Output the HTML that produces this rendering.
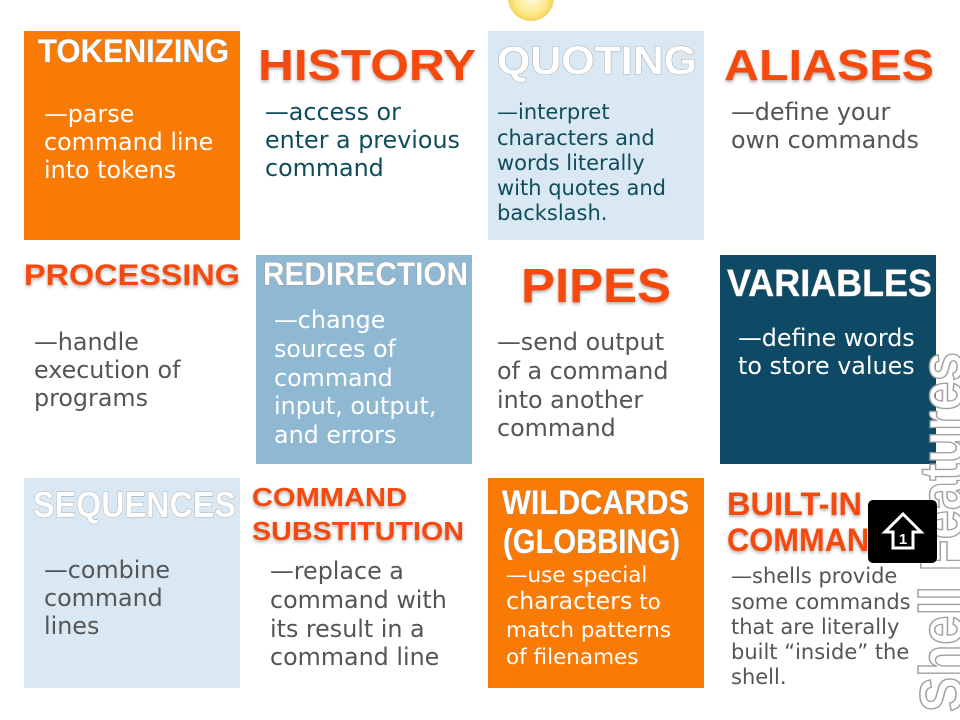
<!DOCTYPE html>
<html><head><meta charset="utf-8"><style>
html,body{margin:0;padding:0;background:#fff;}
svg{display:block;}
.t{font-family:"Liberation Sans",sans-serif;font-weight:bold;}
.o{fill:#f5480f;filter:url(#sh);}
.w{fill:#fff;stroke:#9a9a9a;stroke-width:0.8;paint-order:stroke;}
.b{font-family:"DejaVu Sans",sans-serif;font-size:23.8px;}
</style></head><body>
<svg width="960" height="720" viewBox="0 0 960 720" xmlns="http://www.w3.org/2000/svg">
<defs>
<filter id="sh" x="-10%" y="-20%" width="120%" height="160%"><feDropShadow dx="0" dy="2" stdDeviation="1.5" flood-color="#000" flood-opacity="0.3"/></filter>
<radialGradient id="sun" cx="50%" cy="50%" r="50%"><stop offset="0" stop-color="#fffbe0"/><stop offset="0.7" stop-color="#fde98a"/><stop offset="1" stop-color="#f3d35a"/></radialGradient>
</defs>
<rect width="960" height="720" fill="#fff"/>
<circle cx="531" cy="-2" r="23" fill="url(#sun)"/>
<rect x="24" y="31" width="216" height="209" fill="#f97a05"/>
<rect x="488" y="31" width="216" height="209" fill="#dae8f4"/>
<rect x="256" y="255" width="216" height="209" fill="#8fb8d3"/>
<rect x="720" y="255" width="216" height="209" fill="#0e4a66"/>
<rect x="24" y="478" width="216" height="210" fill="#dae8f4"/>
<rect x="488" y="478" width="216" height="210" fill="#f97a05"/>

<text class="t w" x="38" y="62" font-size="32" textLength="191" lengthAdjust="spacingAndGlyphs">TOKENIZING</text>
<text class="t o" x="258" y="80" font-size="44" textLength="218" lengthAdjust="spacingAndGlyphs">HISTORY</text>
<text class="t w" x="497" y="74" font-size="40" textLength="200" lengthAdjust="spacingAndGlyphs">QUOTING</text>
<text class="t o" x="724" y="80" font-size="44" textLength="210" lengthAdjust="spacingAndGlyphs">ALIASES</text>
<text class="t o" x="24" y="285" font-size="30" textLength="216" lengthAdjust="spacingAndGlyphs">PROCESSING</text>
<text class="t w" x="263" y="285" font-size="32" textLength="205" lengthAdjust="spacingAndGlyphs">REDIRECTION</text>
<text class="t o" x="521" y="302" font-size="48" textLength="150" lengthAdjust="spacingAndGlyphs">PIPES</text>
<text class="t w" x="727" y="296" font-size="38" textLength="205" lengthAdjust="spacingAndGlyphs">VARIABLES</text>
<text class="t w" x="33" y="517" font-size="36" textLength="203" lengthAdjust="spacingAndGlyphs">SEQUENCES</text>
<text class="t o" x="252" y="506" font-size="26" textLength="155" lengthAdjust="spacingAndGlyphs">COMMAND</text>
<text class="t o" x="252" y="540" font-size="26" textLength="212" lengthAdjust="spacingAndGlyphs">SUBSTITUTION</text>
<text class="t w" x="502" y="514" font-size="34" textLength="187" lengthAdjust="spacingAndGlyphs">WILDCARDS</text>
<text class="t w" x="503" y="553" font-size="34" textLength="177" lengthAdjust="spacingAndGlyphs">(GLOBBING)</text>
<text class="t o" x="727" y="515" font-size="32" textLength="135" lengthAdjust="spacingAndGlyphs">BUILT-IN</text>
<text class="t o" x="727" y="551" font-size="32" textLength="185" lengthAdjust="spacingAndGlyphs">COMMANDS</text>

<g class="b" fill="#fff"><text x="44" y="122">—parse</text><text x="44" y="150">command line</text><text x="44" y="178">into tokens</text></g>
<g class="b" fill="#0f4c5c"><text x="265" y="120">—access or</text><text x="265" y="148">enter a previous</text><text x="265" y="176">command</text></g>
<g class="b" fill="#0f4c5c" style="font-size:21px"><text x="497" y="119">—interpret</text><text x="497" y="145">characters and</text><text x="497" y="170">words literally</text><text x="497" y="195">with quotes and</text><text x="497" y="220">backslash.</text></g>
<g class="b" fill="#555"><text x="731" y="120">—define your</text><text x="731" y="148">own commands</text></g>
<g class="b" fill="#555"><text x="34" y="350">—handle</text><text x="34" y="378">execution of</text><text x="34" y="406">programs</text></g>
<g class="b" fill="#fff"><text x="274" y="328">—change</text><text x="274" y="357">sources of</text><text x="274" y="386">command</text><text x="274" y="414">input, output,</text><text x="274" y="443">and errors</text></g>
<g class="b" fill="#555"><text x="497" y="350">—send output</text><text x="497" y="379">of a command</text><text x="497" y="408">into another</text><text x="497" y="436">command</text></g>
<g class="b" fill="#fff"><text x="738" y="346">—define words</text><text x="738" y="374">to store values</text></g>
<g class="b" fill="#555"><text x="44" y="578">—combine</text><text x="44" y="606">command</text><text x="44" y="634">lines</text></g>
<g class="b" fill="#555"><text x="270" y="579">—replace a</text><text x="270" y="608">command with</text><text x="270" y="637">its result in a</text><text x="270" y="665">command line</text></g>
<g class="b" fill="#fff"><text x="506" y="582" style="font-size:21.5px">—use special</text><text x="506" y="609">characters<tspan style="font-size:21.5px"> to</tspan></text><text x="506" y="637" style="font-size:21.5px">match patterns</text><text x="506" y="664" style="font-size:21.5px">of filenames</text></g>
<g class="b" fill="#555" style="font-size:21px"><text x="731" y="583">—shells provide</text><text x="731" y="609">some commands</text><text x="731" y="634">that are literally</text><text x="731" y="659">built  “inside” the</text><text x="731" y="684">shell.</text></g>

<text transform="translate(962,712) rotate(-90)" font-family="Liberation Sans, sans-serif" font-weight="bold" font-size="60" fill="#fff" stroke="#a0a0a0" stroke-width="1.5" textLength="360" lengthAdjust="spacingAndGlyphs">Shell Features</text>

<rect x="868" y="500" width="69" height="63" rx="5" fill="#000"/>
<path d="M903 514 L921 532 L913 532 L913 548 L893 548 L893 532 L885 532 Z" fill="none" stroke="#fff" stroke-width="3"/>
<text x="903" y="544" font-family="Liberation Sans, sans-serif" font-weight="bold" font-size="15" fill="#fff" text-anchor="middle">1</text>
</svg>
</body></html>
